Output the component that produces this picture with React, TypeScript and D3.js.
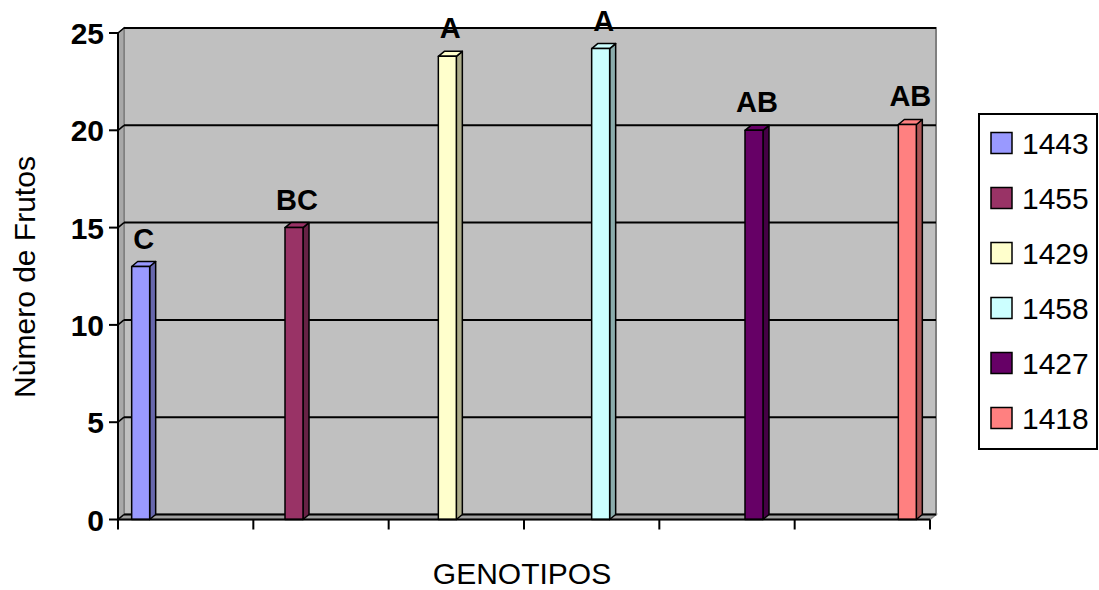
import React from 'react';
import * as d3 from 'd3';

const categories = ['1443', '1455', '1429', '1458', '1427', '1418'];
const values = [13, 15, 23.8, 24.2, 20, 20.3];
const letters = ['C', 'BC', 'A', 'A', 'AB', 'AB'];
const colors = ['#9999ff', '#993366', '#ffffcc', '#ccffff', '#660066', '#ff8080'];
const yTicks = [0, 5, 10, 15, 20, 25];

const W = 1099;
const H = 590;
const font = 'Liberation Sans, Arial, Helvetica, sans-serif';
// 3D depth offset
const dx = 6;
const dy = -5;

const App: React.FC = () => {
  const x = d3.scaleBand().domain(categories).range([118, 930]);
  const inner = d3.scaleBand().domain(categories).range([0, x.bandwidth()]).paddingOuter(0.76);
  const y = d3.scaleLinear().domain([0, 25]).range([519.5, 33]);

  const left = 118;
  const right = 930;
  const y0 = y(0);
  const yTop = y(25);

  return (
    <svg width={W} height={H} style={{ position: 'absolute', left: 0, top: 0 }} fontFamily={font}>
      <rect width={W} height={H} fill="#fff" />
      {/* walls */}
      <rect x={left + dx} y={yTop + dy} width={right - left} height={y0 - yTop} fill="#c0c0c0" stroke="#808080" strokeWidth={2} />
      <polygon
        points={`${left},${y0} ${left},${yTop} ${left + dx},${yTop + dy} ${left + dx},${y0 + dy}`}
        fill="#a8a8a8" stroke="#808080" strokeWidth={1.5}
      />
      <polygon
        points={`${left},${y0} ${right},${y0} ${right + dx},${y0 + dy} ${left + dx},${y0 + dy}`}
        fill="#a0a0a0" stroke="#808080" strokeWidth={1.5}
      />
      {/* gridlines */}
      {yTicks.map((t) => (
        <g key={t}>
          <line x1={left + dx} x2={right + dx} y1={y(t) + dy} y2={y(t) + dy} stroke="#000" strokeWidth={2} />
          <line x1={left} x2={left + dx} y1={y(t)} y2={y(t) + dy} stroke="#000" strokeWidth={1.5} />
        </g>
      ))}
      {/* bars */}
      {categories.map((c, i) => {
        const x0 = (x(c) ?? 0) + (inner(c) ?? 0);
        const x1 = x0 + inner.bandwidth();
        const yv = y(values[i]);
        const side = d3.color(colors[i])!.darker(1.1).formatHex();
        return (
          <g key={c} stroke="#000" strokeWidth={1.5} strokeLinejoin="round">
            <polygon points={`${x1},${yv} ${x1 + dx},${yv + dy} ${x1 + dx},${y0 + dy} ${x1},${y0}`} fill={side} />
            <polygon points={`${x0},${yv} ${x0 + dx},${yv + dy} ${x1 + dx},${yv + dy} ${x1},${yv}`} fill={colors[i]} />
            <rect x={x0} y={yv} width={x1 - x0} height={y0 - yv} fill={colors[i]} />
            <text
              x={(x0 + x1) / 2 + dx / 2}
              y={yv - 18}
              textAnchor="middle"
              fontSize={29}
              fontWeight="bold"
              stroke="none"
              fill="#000"
            >
              {letters[i]}
            </text>
          </g>
        );
      })}
      {/* y axis */}
      <line x1={left} x2={left} y1={yTop} y2={y0} stroke="#000" strokeWidth={2} />
      {yTicks.map((t) => (
        <g key={t}>
          <line x1={left - 9} x2={left} y1={y(t)} y2={y(t)} stroke="#000" strokeWidth={2} />
          <text x={104} y={y(t) + 11} textAnchor="end" fontSize={30} fontWeight="bold">
            {t}
          </text>
        </g>
      ))}
      {/* x axis */}
      <line x1={left} x2={right} y1={y0} y2={y0} stroke="#000" strokeWidth={2} />
      {[...categories.map((c) => x(c) ?? 0), right].map((v, i) => (
        <line key={i} x1={v} x2={v} y1={y0} y2={y0 + 10} stroke="#000" strokeWidth={2} />
      ))}
      {/* titles */}
      <text x={522} y={584} textAnchor="middle" fontSize={30}>
        GENOTIPOS
      </text>
      <text transform={`translate(35,277) rotate(-90)`} textAnchor="middle" fontSize={30}>
        Nùmero de Frutos
      </text>
      {/* legend */}
      <rect x={979} y={114} width={118} height={335} fill="#fff" stroke="#000" strokeWidth={2} />
      {categories.map((c, i) => {
        const cy = 143 + i * 55;
        return (
          <g key={c}>
            <rect x={991} y={cy - 10.5} width={21} height={21} fill={colors[i]} stroke="#000" strokeWidth={1.5} />
            <text x={1022} y={cy + 11} fontSize={30}>
              {c}
            </text>
          </g>
        );
      })}
    </svg>
  );
};

export default App;
